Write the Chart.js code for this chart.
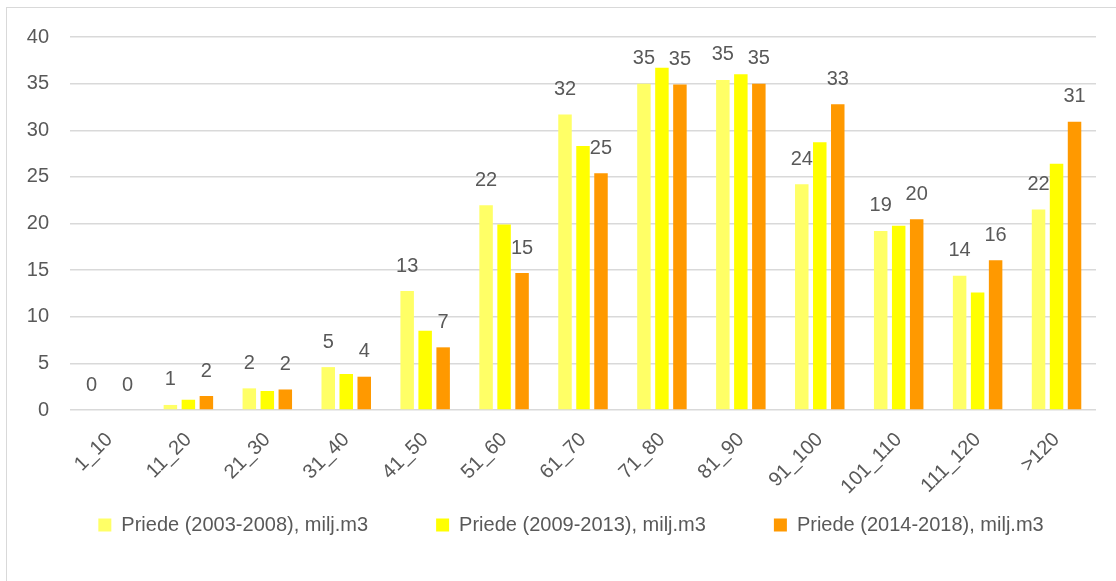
<!DOCTYPE html>
<html lang="lv">
<head>
  <meta charset="UTF-8">
  <title>Priede pa caurmēra klasēm</title>
  <script src="https://cdn.jsdelivr.net/npm/chart.js"></script>
  <style>
    body {
      margin: 0;
      background: #fff;
      overflow: hidden;
    }
    #frame {
      position: absolute;
      left: 6px;
      top: 7px;
      width: 1400px;
      height: 800px;
      border: 1.5px solid #d9d9d9;
    }
    canvas {
      position: absolute;
      left: 0;
      top: 0;
    }
  </style>
</head>
<body>

  <div id="frame"></div>
  <canvas id="priedeChart" width="1116" height="581"></canvas>

  <script>
    // Categories (diameter classes)
    const categories = ['1_10', '11_20', '21_30', '31_40', '41_50', '51_60', '61_70',
                        '71_80', '81_90', '91_100', '101_110', '111_120', '>120'];

    // Series values, milj.m3
    const priede2003 = [0, 0.54, 2.32, 4.6, 12.75, 21.97, 31.7, 35.0, 35.4, 24.2, 19.2, 14.4, 21.5];
    const priede2009 = [0, 1.1, 2.04, 3.86, 8.5, 19.9, 28.3, 36.7, 36.0, 28.7, 19.75, 12.6, 26.4];
    const priede2014 = [0, 1.5, 2.2, 3.57, 6.72, 14.68, 25.4, 34.9, 35.0, 32.8, 20.46, 16.07, 30.9];

    const seriesNames = ['Priede (2003-2008), milj.m3', 'Priede (2009-2013), milj.m3', 'Priede (2014-2018), milj.m3'];
    const seriesColors = ['#ffff66', '#ffff00', '#ff9900'];

    // y axis ticks
    const yMin = 0, yMax = 40, yStep = 5;

    const textColor = '#595959';
    const fontFamily = '"Liberation Sans", Arial, sans-serif';

    // value labels above 1st and 3rd series only
    const valueLabels = {
      id: 'valueLabels',
      afterDatasetsDraw(chart) {
        const ctx = chart.ctx;
        ctx.save();
        ctx.font = '20px ' + fontFamily;
        ctx.fillStyle = textColor;
        ctx.textAlign = 'center';
        ctx.textBaseline = 'middle';
        [0, 2].forEach(i => {
          const meta = chart.getDatasetMeta(i);
          meta.data.forEach((bar, j) => {
            const v = chart.data.datasets[i].data[j];
            ctx.fillText(String(Math.round(v)), bar.x, bar.y - 25);
          });
        });
        ctx.restore();
      }
    };

    // x labels overlap the legend box, so let them run below the axis box
    const unclipLabels = {
      id: 'unclipLabels',
      afterLayout(chart) {
        chart.scales.x.bottom = chart.height;
      }
    };

    const ctx = document.getElementById('priedeChart').getContext('2d');
    new Chart(ctx, {
      type: 'bar',
      data: {
        labels: categories,
        datasets: [
          { label: seriesNames[0], data: priede2003, backgroundColor: seriesColors[0] },
          { label: seriesNames[1], data: priede2009, backgroundColor: seriesColors[1] },
          { label: seriesNames[2], data: priede2014, backgroundColor: seriesColors[2] }
        ]
      },
      options: {
        responsive: false,
        animation: false,
        devicePixelRatio: 1,
        categoryPercentage: 0.684,
        barPercentage: 0.75,
        layout: {
          padding: { left: 26, right: 0, top: 37, bottom: 36 }
        },
        plugins: {
          legend: {
            position: 'bottom',
            labels: {
              boxWidth: 13,
              boxHeight: 13,
              padding: 68,
              color: textColor,
              font: { family: fontFamily, size: 20 }
            }
          },
          tooltip: { enabled: false },
          title: { display: false }
        },
        scales: {
          x: {
            grid: { display: false, drawTicks: false },
            border: { display: false },
            ticks: {
              color: textColor,
              font: { family: fontFamily, size: 20 },
              minRotation: 45,
              maxRotation: 45,
              padding: 18,
              autoSkip: false
            },
            afterFit(scale) { scale.height = 37; }
          },
          y: {
            min: yMin,
            max: yMax,
            grid: { color: '#d9d9d9', lineWidth: 1.5, drawTicks: false },
            border: { display: false },
            ticks: {
              stepSize: yStep,
              color: textColor,
              font: { family: fontFamily, size: 20 },
              padding: 21
            },
            afterFit(scale) { scale.width = 44; }
          },
          yRight: {
            position: 'right',
            grid: { display: false, drawTicks: false },
            border: { display: false },
            ticks: { display: false },
            afterFit(scale) { scale.width = 20; }
          }
        }
      },
      plugins: [valueLabels, unclipLabels]
    });
  </script>

</body>
</html>
